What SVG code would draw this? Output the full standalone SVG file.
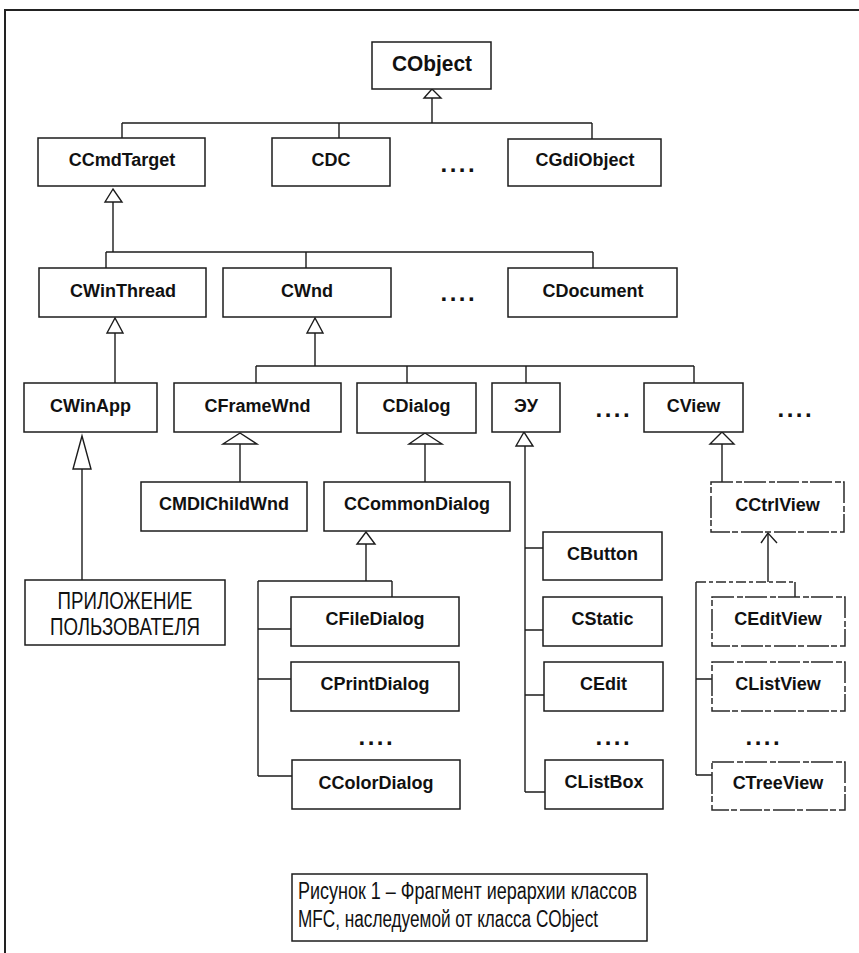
<svg xmlns="http://www.w3.org/2000/svg" width="859" height="953" viewBox="0 0 859 953">
  <style>
    .box { fill: #ffffff; stroke: #1c1c1c; stroke-width: 1.5; }
    .faint { stroke: #2a2a2a; stroke-dasharray: 22 3 6 2; }
    .lbl { font-family: "Liberation Sans", Arial, sans-serif; font-weight: bold; font-size: 18px; fill: #111111; text-anchor: middle; }
    .plain { font-family: "Liberation Sans", Arial, sans-serif; font-size: 23px; fill: #111111; }
    .dots { font-family: "Liberation Sans", Arial, sans-serif; font-weight: bold; font-size: 24px; fill: #111111; letter-spacing: 2.5px; }
    .wire { fill: none; stroke: #1c1c1c; stroke-width: 1.4; }
    .wire-faint { fill: none; stroke: #2a2a2a; stroke-width: 1.4; stroke-dasharray: 10 3 4 3; }
    .tri { fill: #ffffff; stroke: #1c1c1c; stroke-width: 1.4; stroke-linejoin: miter; }
    .frame { fill: none; stroke: #222222; stroke-width: 2; }
  </style>

  <!-- page frame -->
  <path class="frame" d="M5,953 V10 H859"/>

  <!-- inheritance connectors -->
  <g id="connectors">
    <!-- CObject children -->
    <polygon class="tri" points="432,89 424,98 441,98"/>
    <path class="wire" d="M432,98 V123 M122,123 H592 M122,123 V138 M339,123 V138 M592,123 V139"/>
    <!-- CCmdTarget children -->
    <polygon class="tri" points="113,189 105,202 122,202"/>
    <path class="wire" d="M113,202 V252 M106,252 H593 M106,252 V268 M306,252 V268 M593,252 V268"/>
    <!-- CWinThread -> CWinApp -->
    <polygon class="tri" points="115,318 107,333 123,333"/>
    <path class="wire" d="M115,333 V383"/>
    <!-- CWnd children -->
    <polygon class="tri" points="315,318 307,333 323,333"/>
    <path class="wire" d="M315,333 V366 M256,366 H694 M256,366 V383 M407,366 V383 M526,366 V383 M694,366 V383"/>
    <!-- CWinApp -> user application -->
    <polygon class="tri" points="82,436 73,469 91,469"/>
    <path class="wire" d="M82,469 V580"/>
    <!-- CFrameWnd -> CMDIChildWnd -->
    <polygon class="tri" points="240,433 223,444 257,444"/>
    <path class="wire" d="M240,444 V482"/>
    <!-- CDialog -> CCommonDialog -->
    <polygon class="tri" points="425,433 409,444 442,444"/>
    <path class="wire" d="M425,444 V482"/>
    <!-- CCommonDialog children -->
    <polygon class="tri" points="366,532 357,544 375,544"/>
    <path class="wire" d="M366,544 V581 M258,581 H392 M392,581 V597 M258,581 V776 M258,629 H291 M258,679 H291 M258,776 H292"/>
    <!-- controls -->
    <polygon class="tri" points="524,432 516,446 533,446"/>
    <path class="wire" d="M525,446 V792 M525,548 H543 M525,630 H543 M525,695 H544 M525,792 H545"/>
    <!-- CView -> CCtrlView -->
    <polygon class="tri" points="722,432 710,444 734,444"/>
    <path class="wire" d="M722,444 V482"/>
    <!-- CCtrlView children -->
    <polyline class="wire" points="761,543 768,533 777,543"/>
    <path class="wire" d="M768,534 V582 M795,582 V597 M696,582 V775 M696,679 H712 M696,775 H712"/>
    <path class="wire-faint" d="M696,582 H795"/>
  </g>

  <!-- level 0 -->
  <g id="CObject">
    <rect class="box" x="372" y="42" width="119" height="47"/>
    <text class="lbl" x="432" y="71" style="font-size:22px" textLength="80" lengthAdjust="spacingAndGlyphs">CObject</text>
  </g>

  <!-- level 1 -->
  <g id="CCmdTarget">
    <rect class="box" x="38" y="138" width="167" height="48"/>
    <text class="lbl" x="122" y="166">CCmdTarget</text>
  </g>
  <g id="CDC">
    <rect class="box" x="272" y="138" width="118" height="48"/>
    <text class="lbl" x="331" y="166">CDC</text>
  </g>
  <g id="dots-1">
    <text class="dots" x="440.5" y="172">....</text>
  </g>
  <g id="CGdiObject">
    <rect class="box" x="508" y="139" width="153" height="47"/>
    <text class="lbl" x="585" y="166">CGdiObject</text>
  </g>

  <!-- level 2 -->
  <g id="CWinThread">
    <rect class="box" x="39" y="268" width="167" height="49"/>
    <text class="lbl" x="123" y="297">CWinThread</text>
  </g>
  <g id="CWnd">
    <rect class="box" x="223" y="268" width="168" height="49"/>
    <text class="lbl" x="307" y="297">CWnd</text>
  </g>
  <g id="dots-2">
    <text class="dots" x="440.5" y="301">....</text>
  </g>
  <g id="CDocument">
    <rect class="box" x="508" y="268" width="169" height="49"/>
    <text class="lbl" x="593" y="297">CDocument</text>
  </g>

  <!-- level 3 -->
  <g id="CWinApp">
    <rect class="box" x="24" y="383" width="133" height="49"/>
    <text class="lbl" x="90.5" y="412">CWinApp</text>
  </g>
  <g id="CFrameWnd">
    <rect class="box" x="174" y="383" width="167" height="49"/>
    <text class="lbl" x="257.5" y="412">CFrameWnd</text>
  </g>
  <g id="CDialog">
    <rect class="box" x="357" y="383" width="119" height="50"/>
    <text class="lbl" x="416.5" y="412">CDialog</text>
  </g>
  <g id="controls">
    <rect class="box" x="492" y="383" width="68" height="49"/>
    <text class="lbl" x="526" y="412">ЭУ</text>
  </g>
  <g id="dots-3">
    <text class="dots" x="595.5" y="417">....</text>
  </g>
  <g id="CView">
    <rect class="box" x="644" y="383" width="99" height="49"/>
    <text class="lbl" x="693.5" y="412">CView</text>
  </g>
  <g id="dots-4">
    <text class="dots" x="777.5" y="417">....</text>
  </g>

  <!-- level 4 -->
  <g id="CMDIChildWnd">
    <rect class="box" x="141" y="482" width="166" height="49"/>
    <text class="lbl" x="224" y="510">CMDIChildWnd</text>
  </g>
  <g id="CCommonDialog">
    <rect class="box" x="324" y="482" width="186" height="49"/>
    <text class="lbl" x="417" y="510">CCommonDialog</text>
  </g>
  <g id="CCtrlView">
    <rect class="box faint" x="711" y="482" width="133" height="50"/>
    <text class="lbl" x="777.5" y="511">CCtrlView</text>
  </g>

  <!-- user application -->
  <g id="UserApp">
    <rect class="box" x="25" y="580" width="200" height="65"/>
    <text class="plain" x="125" y="609" text-anchor="middle" textLength="135" lengthAdjust="spacingAndGlyphs">ПРИЛОЖЕНИЕ</text>
    <text class="plain" x="125" y="635" text-anchor="middle" textLength="150" lengthAdjust="spacingAndGlyphs">ПОЛЬЗОВАТЕЛЯ</text>
  </g>

  <!-- common dialogs -->
  <g id="CFileDialog">
    <rect class="box" x="291" y="597" width="168" height="49"/>
    <text class="lbl" x="375" y="625">CFileDialog</text>
  </g>
  <g id="CPrintDialog">
    <rect class="box" x="291" y="662" width="168" height="49"/>
    <text class="lbl" x="375" y="690">CPrintDialog</text>
  </g>
  <g id="dots-5">
    <text class="dots" x="358.5" y="745">....</text>
  </g>
  <g id="CColorDialog">
    <rect class="box" x="292" y="760" width="168" height="49"/>
    <text class="lbl" x="376" y="789">CColorDialog</text>
  </g>

  <!-- controls -->
  <g id="CButton">
    <rect class="box" x="543" y="532" width="119" height="48"/>
    <text class="lbl" x="602.5" y="560">CButton</text>
  </g>
  <g id="CStatic">
    <rect class="box" x="543" y="597" width="119" height="49"/>
    <text class="lbl" x="602.5" y="625">CStatic</text>
  </g>
  <g id="CEdit">
    <rect class="box" x="544" y="662" width="119" height="49"/>
    <text class="lbl" x="603.5" y="690">CEdit</text>
  </g>
  <g id="dots-6">
    <text class="dots" x="595.5" y="745">....</text>
  </g>
  <g id="CListBox">
    <rect class="box" x="545" y="760" width="118" height="49"/>
    <text class="lbl" x="604" y="788">CListBox</text>
  </g>

  <!-- control views -->
  <g id="CEditView">
    <rect class="box faint" x="712" y="597" width="133" height="49"/>
    <text class="lbl" x="778" y="625">CEditView</text>
  </g>
  <g id="CListView">
    <rect class="box faint" x="712" y="662" width="133" height="49"/>
    <text class="lbl" x="778" y="690">CListView</text>
  </g>
  <g id="dots-7">
    <text class="dots" x="745.5" y="745">....</text>
  </g>
  <g id="CTreeView">
    <rect class="box faint" x="712" y="762" width="133" height="48"/>
    <text class="lbl" x="778" y="789">CTreeView</text>
  </g>

  <!-- figure caption -->
  <g id="caption">
    <rect class="box" x="292" y="874" width="355" height="67"/>
    <text class="plain" x="298" y="899" textLength="339" lengthAdjust="spacingAndGlyphs">Рисунок 1 – Фрагмент иерархии классов</text>
    <text class="plain" x="298" y="927" textLength="300" lengthAdjust="spacingAndGlyphs">MFC, наследуемой от класса CObject</text>
  </g>
</svg>
